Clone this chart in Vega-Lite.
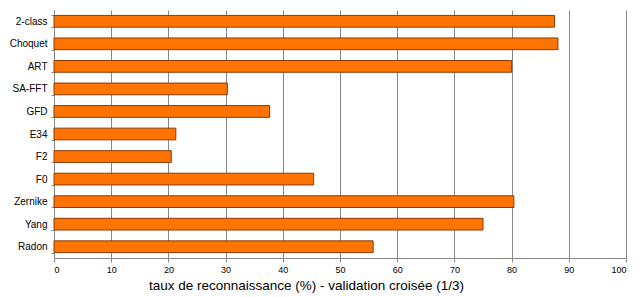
{
  "$schema": "https://vega.github.io/schema/vega-lite/v6.json",
  "autosize": {"type": "none"},
  "padding": {"left": 54, "top": 10, "right": 16, "bottom": 39},
  "width": 572,
  "height": 248,
  "background": "white",
  "config": {"view": {"stroke": null}, "font": "Liberation Sans"},
  "data": {
    "values": [
      {"method": "2-class", "rate": 87.5},
      {"method": "Choquet", "rate": 88.1},
      {"method": "ART", "rate": 80.0},
      {"method": "SA-FFT", "rate": 30.3},
      {"method": "GFD", "rate": 37.7},
      {"method": "E34", "rate": 21.3},
      {"method": "F2", "rate": 20.5},
      {"method": "F0", "rate": 45.4},
      {"method": "Zernike", "rate": 80.4},
      {"method": "Yang", "rate": 75.0},
      {"method": "Radon", "rate": 55.8}
    ]
  },
  "mark": {"type": "bar", "color": "#FF7300", "stroke": "#8A3A08", "strokeWidth": 1},
  "encoding": {
    "y": {
      "field": "method",
      "type": "nominal",
      "sort": null,
      "scale": {"paddingInner": 0.48, "paddingOuter": 0.24},
      "axis": {
        "title": null,
        "labelFontSize": 10,
        "labelColor": "#000000",
        "labelPadding": 4,
        "tickBand": "extent",
        "tickSize": 3,
        "tickColor": "#888888",
        "domainColor": "#888888",
        "grid": false
      }
    },
    "x": {
      "field": "rate",
      "type": "quantitative",
      "scale": {"domain": [0, 100], "nice": false},
      "axis": {
        "title": "taux de reconnaissance (%) - validation croisée (1/3)",
        "titleFontSize": 13.5,
        "titleFontWeight": "normal",
        "titleColor": "#000000",
        "titleAlign": "center",
        "titleAnchor": null,
        "titleX": 252,
        "titleY": 31,
        "titleBaseline": "alphabetic",
        "values": [0, 10, 20, 30, 40, 50, 60, 70, 80, 90, 100],
        "labelFontSize": 9,
        "labelColor": "#000000",
        "labelPadding": 3,
        "tickSize": 4,
        "tickColor": "#888888",
        "domainColor": "#888888",
        "grid": true,
        "gridColor": "#888888",
        "gridWidth": 1
      }
    }
  }
}
